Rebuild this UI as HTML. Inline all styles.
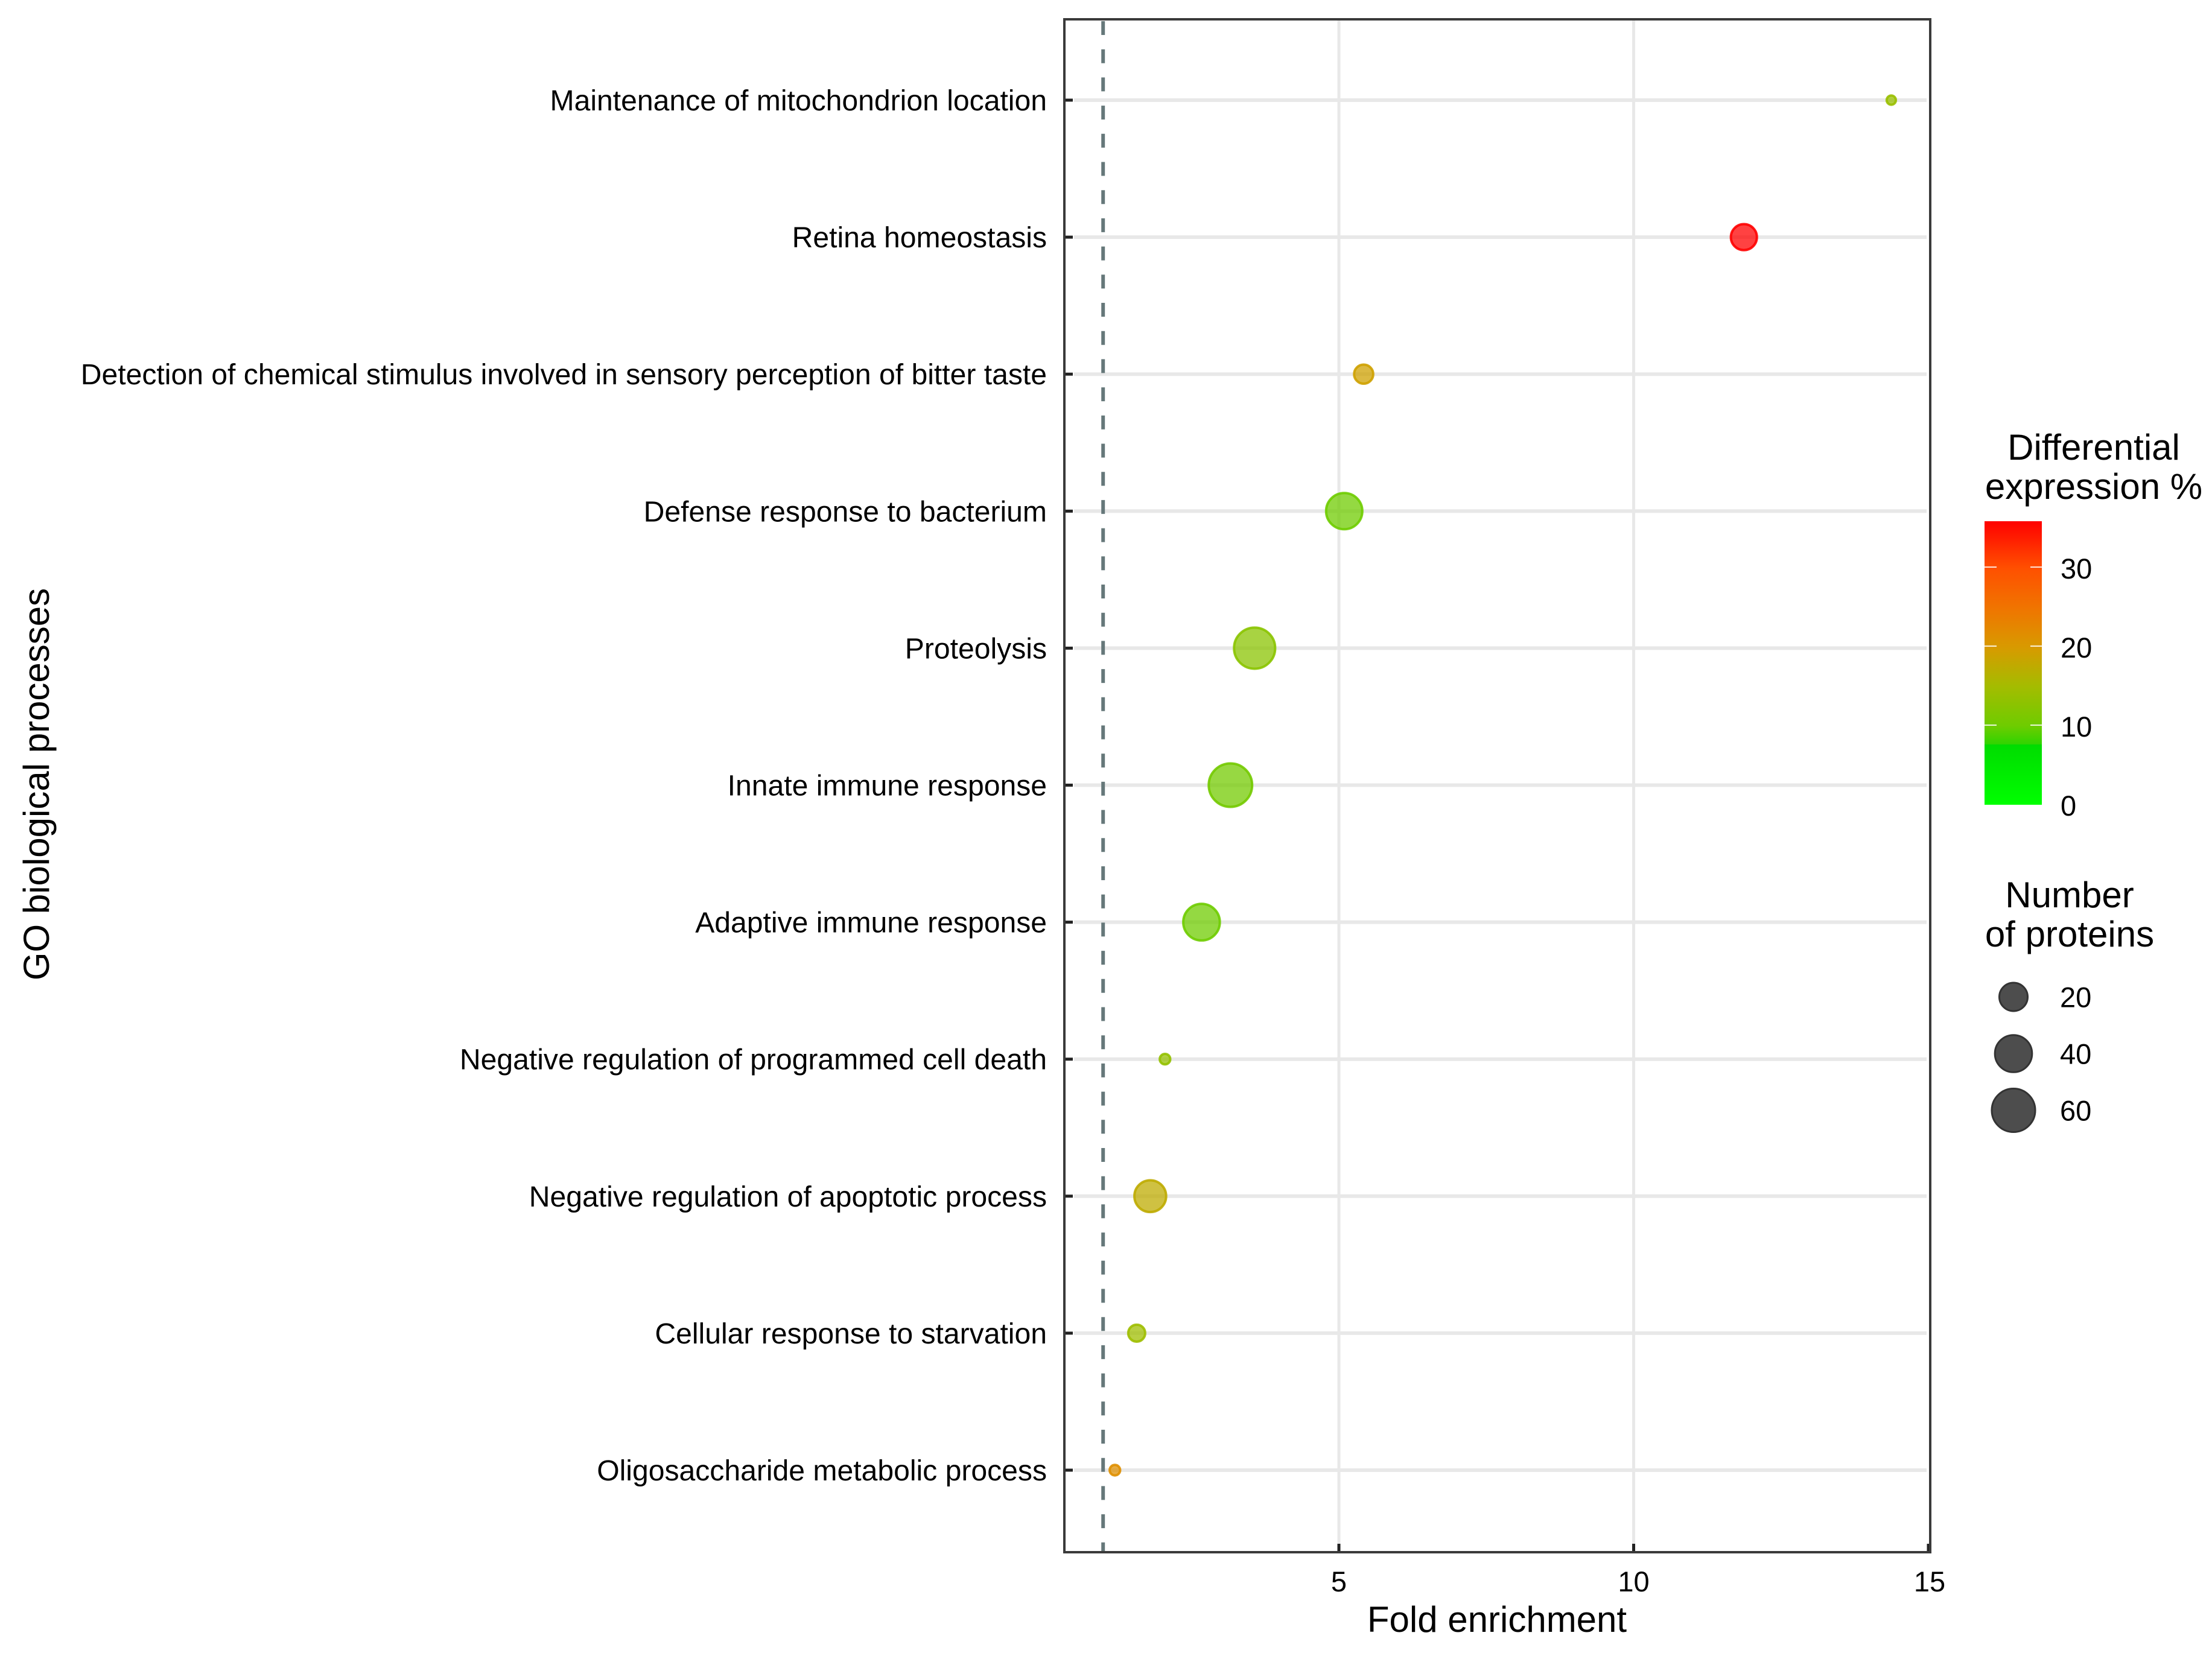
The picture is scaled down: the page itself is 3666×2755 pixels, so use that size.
<!DOCTYPE html>
<html lang="en">
<head>
<meta charset="utf-8">
<title>GO biological processes fold enrichment</title>
<style>
html,body{margin:0;padding:0;background:#fff;}
svg{display:block;}
text{font-family:"Liberation Sans",Arial,sans-serif;fill:#000;}
</style>
</head>
<body>
<svg id="chart" xmlns="http://www.w3.org/2000/svg" width="3666" height="2755" viewBox="0 0 3666 2755">
  <rect x="0" y="0" width="3666" height="2755" fill="#ffffff"/>
  <defs>
    <linearGradient id="ramp" x1="0" y1="1" x2="0" y2="0"></linearGradient>
  </defs>
  <g id="grid"></g>
  <g id="refline"></g>
  <g id="points"></g>
  <g id="ticks"></g>
  <rect x="1764" y="32" width="1435" height="2541" fill="none" stroke="#3a3a3a" stroke-width="4"/>
  <g id="ylabels"></g>
  <g id="xlabels"></g>
  <text x="2481" y="2705" font-size="60" text-anchor="middle">Fold enrichment</text>
  <text transform="translate(81,1300) rotate(-90)" font-size="60" text-anchor="middle">GO biological processes</text>
  <g>
    <text x="3470" y="762" font-size="60" text-anchor="middle">Differential</text>
    <text x="3470" y="827" font-size="60" text-anchor="middle">expression %</text>
    <rect x="3289" y="864" width="95" height="470" fill="url(#ramp)"/>
    <g id="colorticks"></g>
  </g>
  <g>
    <text x="3430" y="1504" font-size="60" text-anchor="middle">Number</text>
    <text x="3430" y="1569" font-size="60" text-anchor="middle">of proteins</text>
    <g id="sizelegend"></g>
  </g>
</svg>
<script>
// ---- data ----
const categories = [
  "Maintenance of mitochondrion location",
  "Retina homeostasis",
  "Detection of chemical stimulus involved in sensory perception of bitter taste",
  "Defense response to bacterium",
  "Proteolysis",
  "Innate immune response",
  "Adaptive immune response",
  "Negative regulation of programmed cell death",
  "Negative regulation of apoptotic process",
  "Cellular response to starvation",
  "Oligosaccharide metabolic process"
];
const foldEnrichment = [14.37, 11.87, 5.42, 5.09, 3.57, 3.16, 2.67, 2.05, 1.8, 1.57, 1.2];
const proteinCounts = [1.5, 17, 8, 39, 54, 62, 40, 2, 28, 6, 2];
const differentialPct = [14, 36, 19, 10, 12.5, 10.5, 10, 13.5, 17.5, 14.5, 21.5];
const xTicks = [5, 10, 15];
const referenceFold = [1];
const colorTicks = [0, 10, 20, 30];
const sizeTicks = [20, 40, 60];
const rampValues = [0, 7.6, 7.7, 10, 15, 20, 25, 30, 36];
const rampColors = ["#00ff00", "#00dc00", "#30d400", "#6ecc00", "#a4bc00", "#d89a00", "#f07400", "#ff5000", "#ff0000"];

// ---- scales ----
const xScale = v => 2219 + (v - 5) * 97.7;
const yScale = i => 166 + i * 227.1;
const rScale = n => 8.28 * Math.pow(n, 0.369);
const cbScale = v => 1333 - v * 13.1;
const cbMax = 36;
function hexToRgb(h) { return [1, 3, 5].map(k => parseInt(h.substr(k, 2), 16)); }
function colorScale(v) {
  for (let i = 1; i < rampValues.length; i++) {
    if (v <= rampValues[i]) {
      const t = (v - rampValues[i - 1]) / (rampValues[i] - rampValues[i - 1]);
      const a = hexToRgb(rampColors[i - 1]), b = hexToRgb(rampColors[i]);
      return "rgb(" + a.map((c, k) => Math.round(c + (b[k] - c) * t)).join(",") + ")";
    }
  }
  return rampColors[rampColors.length - 1];
}

const NS = "http://www.w3.org/2000/svg";
function mk(parentId, tag, attrs, txt) {
  const el = document.createElementNS(NS, tag);
  for (const k in attrs) el.setAttribute(k, attrs[k]);
  if (txt !== undefined) el.textContent = txt;
  document.getElementById(parentId).appendChild(el);
  return el;
}

// gradient
rampValues.forEach((v, i) => {
  mk("ramp", "stop", { offset: v / cbMax, "stop-color": rampColors[i] });
});

// grid
categories.forEach((c, i) => {
  const el = mk("grid", "line", { x1: 1780, x2: 3193, y1: yScale(i), y2: yScale(i), stroke: "#e8e8e8", "stroke-width": 6 });
  
  
});
xTicks.slice(0, 2).forEach(t => {
  const el = mk("grid", "line", { x1: xScale(t), x2: xScale(t), y1: 34, y2: 2571, stroke: "#e8e8e8", "stroke-width": 5 });
  
  
});

// reference line
referenceFold.forEach(t => {
  const el = mk("refline", "line", { x1: xScale(t), x2: xScale(t), y1: 35, y2: 2573, stroke: "#66787a", "stroke-width": 6, "stroke-dasharray": "23 23.7" });
  
  
});

// points
categories.forEach((c, i) => {
  const col = colorScale(differentialPct[i]);
  const el = mk("points", "circle", {
    cx: xScale(foldEnrichment[i]), cy: yScale(i), r: rScale(proteinCounts[i]) - 2,
    fill: col, "fill-opacity": 0.74, stroke: col, "stroke-opacity": 0.9, "stroke-width": 4
  });
  
  
});

// ticks
categories.forEach((c, i) => {
  const el = mk("ticks", "line", { x1: 1764, x2: 1778, y1: yScale(i), y2: yScale(i), stroke: "#222222", "stroke-width": 5 });
  
  
});
xTicks.forEach(t => {
  const el = mk("ticks", "line", { x1: xScale(t), x2: xScale(t), y1: 2573, y2: 2559, stroke: "#222222", "stroke-width": 5 });
  
  
});

// y labels
categories.forEach((c, i) => {
  const el = mk("ylabels", "text", { x: 1735, y: yScale(i) + 17, "font-size": 48.1, "text-anchor": "end" }, c);
  
  
});

// x labels
xTicks.forEach(t => {
  const el = mk("xlabels", "text", { x: xScale(t) + (t === 15 ? 2 : 0), y: 2638, "font-size": 47, "text-anchor": "middle" }, String(t));
  
  
});

// colour bar ticks & labels
colorTicks.forEach(t => {
  const y = cbScale(t);
  if (t > 0) {
    const a = mk("colorticks", "line", { x1: 3289, x2: 3309, y1: y, y2: y, stroke: "#ffffff", "stroke-opacity": 0.85, "stroke-width": 2 });
    
    
    const b = mk("colorticks", "line", { x1: 3365, x2: 3384, y1: y, y2: y, stroke: "#ffffff", "stroke-opacity": 0.85, "stroke-width": 2 });
    
    
  }
  const l = mk("colorticks", "text", { x: 3415, y: y + 19, "font-size": 47 }, String(t));
  
  
});

// size legend
sizeTicks.forEach((t, i) => {
  const y = 1652.5 + i * 94;
  const c = mk("sizelegend", "circle", { cx: 3337, cy: y, r: rScale(t) - 1.5, fill: "#4d4d4d", stroke: "#333333", "stroke-width": 3 });
  
  
  const l = mk("sizelegend", "text", { x: 3414, y: y + 17, "font-size": 47 }, String(t));
  
  
});
</script>
</body>
</html>
